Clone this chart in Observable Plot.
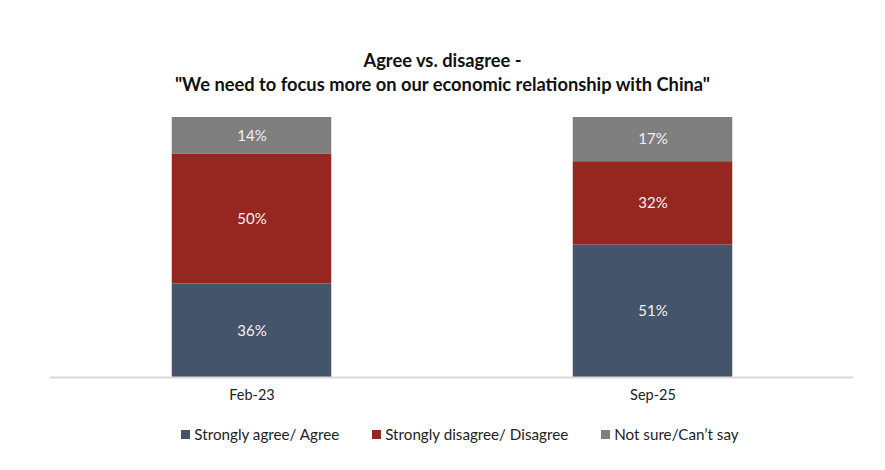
<!DOCTYPE html>
<html>
<head>
<meta charset="utf-8">
<script src="https://cdn.jsdelivr.net/npm/d3@7"></script>
<script src="https://cdn.jsdelivr.net/npm/@observablehq/plot@0.6"></script>
<style>
  body { margin: 0; background: #fff; font-family: Lato, "Open Sans", sans-serif; }
  #wrap { width: 885px; height: 470px; position: relative; overflow: hidden; }
  #title { height: 100px; box-sizing: border-box; padding-top: 48px; text-align: center;
           font-weight: bold; font-size: 18.3px; line-height: 24px; color: #111; }
  #legend { display: flex; justify-content: center; gap: 33px; font-size: 15.2px; color: #222;
            margin-top: 15px; padding-left: 35px; }
  #legend span.sw { display: inline-block; width: 9px; height: 9px; margin-right: 4px; }
  #legend div { display: flex; align-items: center; }
</style>
</head>
<body>
<div id="wrap">
  <div id="title">Agree vs. disagree -<br>"We need to focus more on our economic relationship with China"</div>
  <div id="chart"></div>
  <div id="legend"></div>
</div>
<script>
// Survey waves and answer categories
const waves = ["Feb-23", "Sep-25"];
const seriesNames = ["Strongly agree/ Agree", "Strongly disagree/ Disagree", "Not sure/Can\u2019t say"];
const seriesColors = ["#44546a", "#952620", "#7f7f7f"];

// Share of respondents (%) per wave, in the order of `waves`
const agree = [36, 51];
const disagree = [50, 32];
const notSure = [14, 17];

const columns = [agree, disagree, notSure];
const rows = [];
seriesNames.forEach((s, i) => {
  waves.forEach((w, j) => rows.push({ wave: w, series: s, value: columns[i][j] }));
});

const stackOpts = { x: "wave", y: "value", z: "series", order: seriesNames };

const chart = Plot.plot({
  width: 885,
  height: 310,
  marginTop: 17,
  marginBottom: 33,
  marginLeft: 50,
  marginRight: 32,
  style: { fontFamily: "Lato, 'Open Sans', sans-serif", fontSize: "14.5px", color: "#222" },
  x: { domain: waves, padding: 0, label: null, tickSize: 0, tickPadding: 12 },
  y: { domain: [0, 100], axis: null },
  color: { domain: seriesNames, range: seriesColors },
  marks: [
    Plot.barY(rows, Plot.stackY({ ...stackOpts, fill: "series", insetLeft: 120.75, insetRight: 120.75 })),
    Plot.ruleY([0], { stroke: "#d9d9d9", strokeWidth: 2 }),
    Plot.text(rows, Plot.stackY({ ...stackOpts, text: d => d.value + "%", fill: "#f2f2f2", fontSize: 15 }))
  ]
});
document.getElementById("chart").appendChild(chart);

const legend = document.getElementById("legend");
seriesNames.forEach((s, i) => {
  const item = document.createElement("div");
  const sw = document.createElement("span");
  sw.className = "sw";
  sw.style.background = seriesColors[i];
  item.appendChild(sw);
  item.appendChild(document.createTextNode(s));
  legend.appendChild(item);
});
</script>
</body>
</html>
